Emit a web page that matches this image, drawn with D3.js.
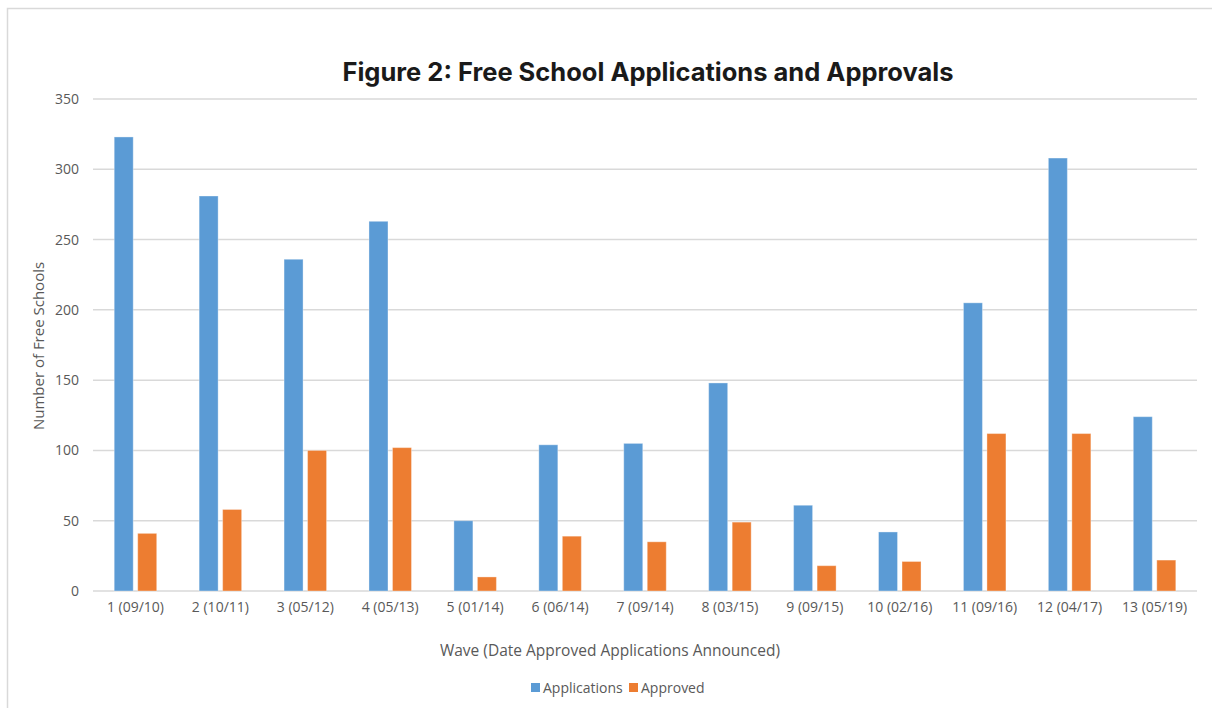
<!DOCTYPE html>
<html>
<head>
<meta charset="utf-8">
<script src="https://cdn.jsdelivr.net/npm/d3@7"></script>
<style>
  body { margin: 0; background: #fff; }
  svg { display: block; }
</style>
</head>
<body>
<svg id="chart" width="1212" height="708"></svg>
<script>
// Waves and their announcement dates
const waves = ["1 (09/10)", "2 (10/11)", "3 (05/12)", "4 (05/13)", "5 (01/14)", "6 (06/14)",
  "7 (09/14)", "8 (03/15)", "9 (09/15)", "10 (02/16)", "11 (09/16)", "12 (04/17)", "13 (05/19)"];

// Series values
const applications = [323, 281, 236, 263, 50, 104, 105, 148, 61, 42, 205, 308, 124];
const approved     = [41, 58, 100, 102, 10, 39, 35, 49, 18, 21, 112, 112, 22];

const seriesNames = ["Applications", "Approved"];
const yTicks = [0, 50, 100, 150, 200, 250, 300, 350];

const colors = { Applications: "#5B9BD5", Approved: "#ED7D31" };
const font = "'Open Sans', 'Liberation Sans', sans-serif";

const svg = d3.select("#chart");
const margin = { top: 99, right: 15, bottom: 117, left: 93 };
const W = 1212, H = 708;
const innerWidth = W - margin.left - margin.right;
const innerHeight = H - margin.top - margin.bottom;

// Outer chart border (left and top edges visible)
svg.append("path")
  .attr("d", `M7.5,${H} V8.5 H${W}`)
  .attr("fill", "none")
  .attr("stroke", "#d9d9d9")
  .attr("stroke-width", 1.5);

const g = svg.append("g")
  .attr("transform", `translate(${margin.left},${margin.top})`);

const data = waves.map((w, i) => ({ wave: w, Applications: applications[i], Approved: approved[i] }));

const x = d3.scaleBand().domain(waves).range([0, innerWidth]);
const y = d3.scaleLinear().domain([0, 350]).range([innerHeight, 0]);

// Group of two bars, ~19px each with small gap
const barW = 19, gap = 4.5;
const x1 = d3.scaleOrdinal()
  .domain(seriesNames)
  .range([-(barW + gap / 2), gap / 2]);

// Gridlines
g.append("g")
  .selectAll("line")
  .data(yTicks)
  .join("line")
    .attr("x1", 0).attr("x2", innerWidth)
    .attr("y1", d => y(d)).attr("y2", d => y(d))
    .attr("stroke", "#d9d9d9")
    .attr("stroke-width", 1.5);

// Bars
g.append("g")
  .selectAll("g")
  .data(data)
  .join("g")
    .attr("transform", d => `translate(${x(d.wave) + x.bandwidth() / 2},0)`)
  .selectAll("rect")
  .data(d => seriesNames.map(k => ({ key: k, value: d[k] })))
  .join("rect")
    .attr("x", d => x1(d.key))
    .attr("y", d => y(d.value))
    .attr("width", barW)
    .attr("height", d => y(0) - y(d.value))
    .attr("fill", d => colors[d.key])
    .attr("stroke", "#fff")
    .attr("stroke-opacity", 0.35)
    .attr("stroke-width", 1);

// Y axis labels
const yAxis = g.append("g")
  .call(d3.axisLeft(y).tickValues(yTicks).tickSize(0).tickPadding(14));
yAxis.select(".domain").remove();
yAxis.selectAll("text")
  .attr("font-family", font)
  .attr("font-size", 14)
  .attr("fill", "#595959");

// X axis labels
const xAxis = g.append("g")
  .attr("transform", `translate(0,${innerHeight})`)
  .call(d3.axisBottom(x).tickSize(0).tickPadding(11));
xAxis.select(".domain").remove();
xAxis.selectAll("text")
  .attr("font-family", font)
  .attr("font-size", 14)
  .attr("fill", "#595959");

// Title
svg.append("text")
  .attr("x", 648)
  .attr("y", 81)
  .attr("text-anchor", "middle")
  .attr("font-family", "Inter, 'Noto Sans', sans-serif")
  .attr("font-weight", 700)
  .attr("font-size", 25.5)
  .attr("fill", "#1a1a1a")
  .text("Figure 2: Free School Applications and Approvals");

// Axis titles
svg.append("text")
  .attr("x", 610)
  .attr("y", 656)
  .attr("text-anchor", "middle")
  .attr("font-family", font)
  .attr("font-size", 15.5)
  .attr("fill", "#595959")
  .text("Wave (Date Approved Applications Announced)");

svg.append("text")
  .attr("transform", "translate(44,346) rotate(-90)")
  .attr("text-anchor", "middle")
  .attr("font-family", font)
  .attr("font-size", 15)
  .attr("fill", "#595959")
  .text("Number of Free Schools");

// Legend
const legend = svg.append("g").attr("transform", "translate(531,688)");
const legendX = [0, 98];
seriesNames.forEach((name, i) => {
  const lg = legend.append("g").attr("transform", `translate(${legendX[i]},0)`);
  lg.append("rect")
    .attr("x", 0).attr("y", -5)
    .attr("width", 9).attr("height", 9)
    .attr("fill", colors[name]);
  lg.append("text")
    .attr("x", 12).attr("y", 5)
    .attr("font-family", font)
    .attr("font-size", 14)
    .attr("fill", "#595959")
    .text(name);
});
</script>
</body>
</html>
